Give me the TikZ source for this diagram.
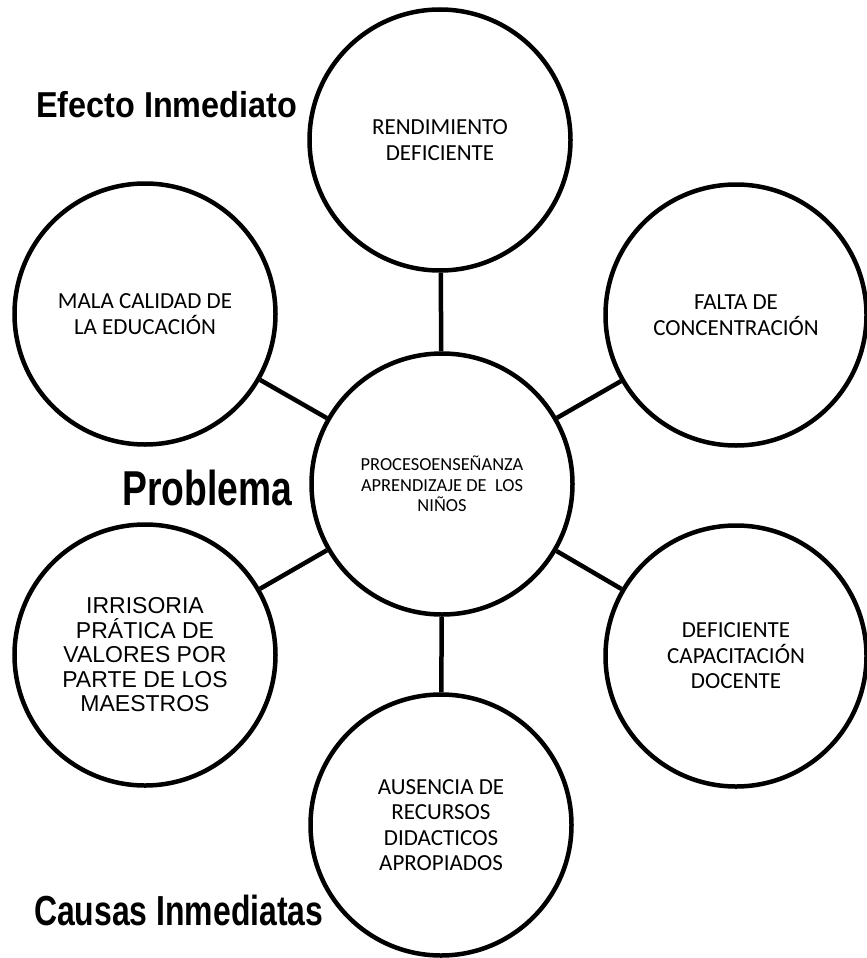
\documentclass[tikz,border=0pt]{standalone}
\usepackage{fontspec}
\setmainfont{Carlito}
\newfontfamily\arialf{Liberation Sans}
\newfontfamily\labf{Liberation Sans}
\begin{document}
\begin{tikzpicture}[x=1pt,y=-1pt,
  bubble/.style={circle,draw=black,line width=4.5pt,minimum size=261pt,inner sep=0pt,align=center,
     font=\fontsize{23}{25.5}\selectfont},
  link/.style={line width=4.5pt},
  lab/.style={anchor=base west,inner sep=0pt,font=\labf\bfseries}]
\useasboundingbox (0,0) rectangle (867,958);
\node[bubble] (top) at (440,140) {RENDIMIENTO\\DEFICIENTE};
\node[bubble] (lt) at (145,314) {MALA CALIDAD DE\\LA EDUCACIÓN};
\node[bubble] (rt) at (736,315) {FALTA DE\\CONCENTRACIÓN};
\node[bubble,font=\fontsize{18.4}{20.5}\selectfont] (c) at (442,484) {PROCESOENSEÑANZA\\APRENDIZAJE DE\ \ LOS\\NIÑOS};
\node[bubble,font=\arialf\fontsize{23}{24.5}\selectfont] (lb) at (145,655) {IRRISORIA\\PRÁTICA DE\\VALORES POR\\PARTE DE LOS\\MAESTROS};
\node[bubble] (rb) at (736,656) {DEFICIENTE\\CAPACITACIÓN\\DOCENTE};
\node[bubble] (b) at (441,825) {AUSENCIA DE\\RECURSOS\\DIDACTICOS\\APROPIADOS};
\draw[link] (c) -- (top);
\draw[link] (c) -- (lt);
\draw[link] (c) -- (rt);
\draw[link] (c) -- (lb);
\draw[link] (c) -- (rb);
\draw[link] (c) -- (b);
\node[lab] (e) at (36,117) {\fontsize{36}{40}\selectfont\scalebox{0.9}[1]{Efecto Inmediato}};
\node[lab] (p) at (122,505) {\fontsize{49}{52}\selectfont\scalebox{0.76}[1]{Problema}};
\node[lab] (ca) at (34,925) {\fontsize{42}{46}\selectfont\scalebox{0.76}[1]{Causas Inmediatas}};
\end{tikzpicture}
\end{document}
